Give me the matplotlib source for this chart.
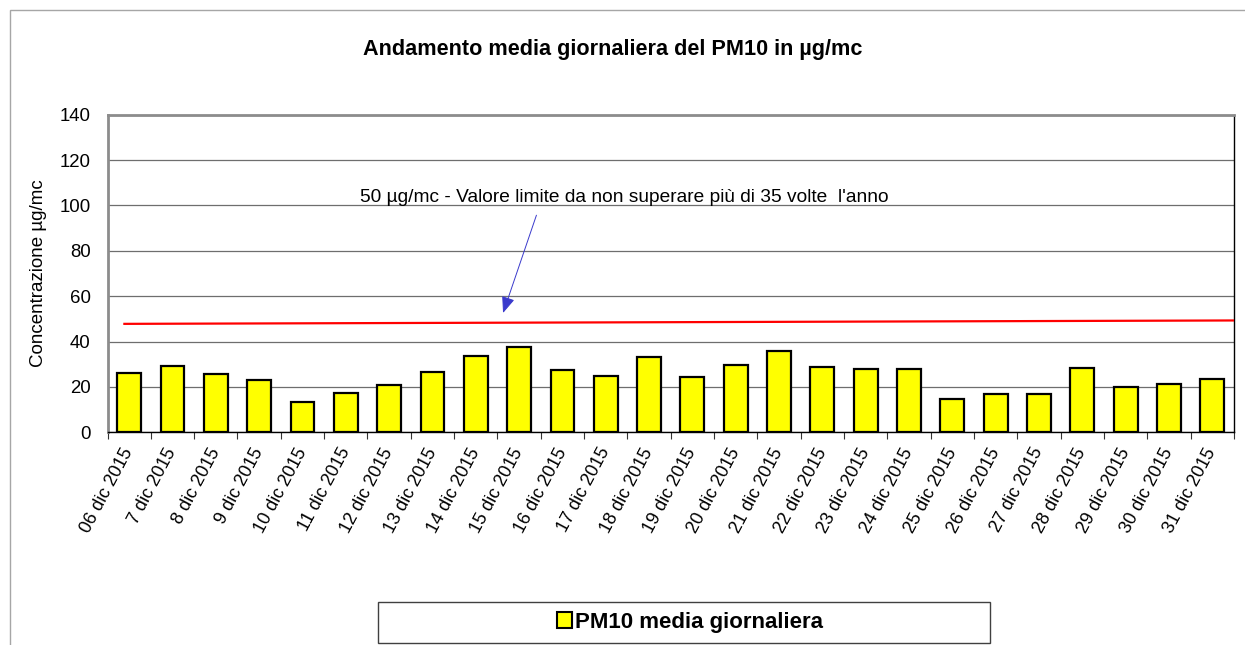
import matplotlib
matplotlib.use("Agg")
import matplotlib.pyplot as plt
from matplotlib.patches import Rectangle, Patch
import matplotlib.transforms as mtransforms

plt.rcParams['font.family'] = ['Liberation Sans', 'DejaVu Sans']

# ---------------- data ----------------
categories = ["06 dic 2015", "7 dic 2015", "8 dic 2015", "9 dic 2015", "10 dic 2015",
              "11 dic 2015", "12 dic 2015", "13 dic 2015", "14 dic 2015", "15 dic 2015",
              "16 dic 2015", "17 dic 2015", "18 dic 2015", "19 dic 2015", "20 dic 2015",
              "21 dic 2015", "22 dic 2015", "23 dic 2015", "24 dic 2015", "25 dic 2015",
              "26 dic 2015", "27 dic 2015", "28 dic 2015", "29 dic 2015", "30 dic 2015",
              "31 dic 2015"]
pm10 = [26.1, 29.2, 25.5, 22.9, 13.3, 17.2, 21.0, 26.7, 33.6, 37.5,
        27.3, 24.8, 33.0, 24.5, 29.6, 35.9, 28.6, 27.7, 27.7, 14.5,
        16.9, 16.9, 28.5, 19.9, 21.5, 23.4]
limit_line_values = [47.8, 49.3]   # drawn limit line, start and end (µg/mc)
yticks = [0, 20, 40, 60, 80, 100, 120, 140]

title = "Andamento media giornaliera del PM10 in µg/mc"
ylabel = "Concentrazione µg/mc"
annotation = "50 µg/mc - Valore limite da non superare più di 35 volte  l'anno"
legend_label = "PM10 media giornaliera"

# ---------------- figure ----------------
W, H = 1245, 645
fig = plt.figure(figsize=(W / 100, H / 100), dpi=100)
fig.patch.set_facecolor('white')

def fx(px):
    return px / W

def fy(py):
    return 1 - py / H

# outer chart frame (top edge at y=10 px, left edge at x=10 px)
fig.patches.append(Rectangle((fx(10), -0.2), 1.2, fy(10) + 0.2,
                             transform=fig.transFigure, fill=False,
                             edgecolor='#a6a6a6', linewidth=1.0))

left, right, top, bottom = 107.5, 1234, 114.7, 432.3
ax = fig.add_axes([fx(left), fy(bottom), fx(right - left), (bottom - top) / H])

x = list(range(len(categories)))
ax.bar(x, pm10, width=0.55, color='#ffff00', edgecolor='black', linewidth=1.6, zorder=3)

ax.set_xlim(-0.5, len(categories) - 0.5)
ax.set_ylim(0, 140)
ax.set_yticks(yticks)
ax.tick_params(axis='y', length=0, labelsize=13.4, pad=12)
ax.yaxis.grid(True, color='#6e6e6e', linewidth=0.9, zorder=0)
ax.set_axisbelow(True)

ax.set_xticks(x)
ax.set_xticklabels(categories, rotation=62, ha='right', va='center',
                   rotation_mode='anchor', fontsize=13.0)
ax.tick_params(axis='x', which='major', length=0, pad=12)
ax.set_xticks([i + 0.5 for i in range(-1, len(categories))], minor=True)
ax.tick_params(axis='x', which='minor', length=5, width=0.8, color='#333333', direction='out')

for s in ['left', 'top']:
    ax.spines[s].set_color('#8c8c8c')
    ax.spines[s].set_linewidth(2.0)
for s in ['right', 'bottom']:
    ax.spines[s].set_color('black')
    ax.spines[s].set_linewidth(1.0)

ax.set_ylabel(ylabel, fontsize=13.5, labelpad=9)

# limit line (axes-fraction x, data y)
trans = mtransforms.blended_transform_factory(ax.transAxes, ax.transData)
ax.plot([0.014, 1.0], limit_line_values, color='#ff0000', linewidth=1.6,
        transform=trans, zorder=4, solid_capstyle='butt')

# annotation text and arrow
ax.text(5.33, 103.7, annotation, fontsize=13.8, ha='left', va='center', zorder=5)
ax.annotate('', xy=(8.63, 52.6), xytext=(9.40, 95.7), zorder=5,
            arrowprops=dict(arrowstyle='-|>,head_length=1.0,head_width=0.4',
                            color='#3a3acc', linewidth=0.7, shrinkA=0, shrinkB=0))

fig.text(fx(613), fy(49), title, ha='center', va='center', fontsize=15.6, fontweight='bold')

# legend box
fig.patches.append(Rectangle((fx(378), fy(643)), fx(990 - 378), (643 - 602) / H,
                             transform=fig.transFigure, fill=True, facecolor='white',
                             edgecolor='#404040', linewidth=1.0))
handle = Patch(facecolor='#ffff00', edgecolor='black', linewidth=1.5)
fig.legend([handle], [legend_label], loc='center',
           bbox_to_anchor=(fx(690), fy(622.5)),
           frameon=False, prop={'weight': 'bold', 'size': 16},
           handlelength=0.7, handleheight=0.7, handletextpad=0.15)

fig.savefig('out.png', dpi=100)
